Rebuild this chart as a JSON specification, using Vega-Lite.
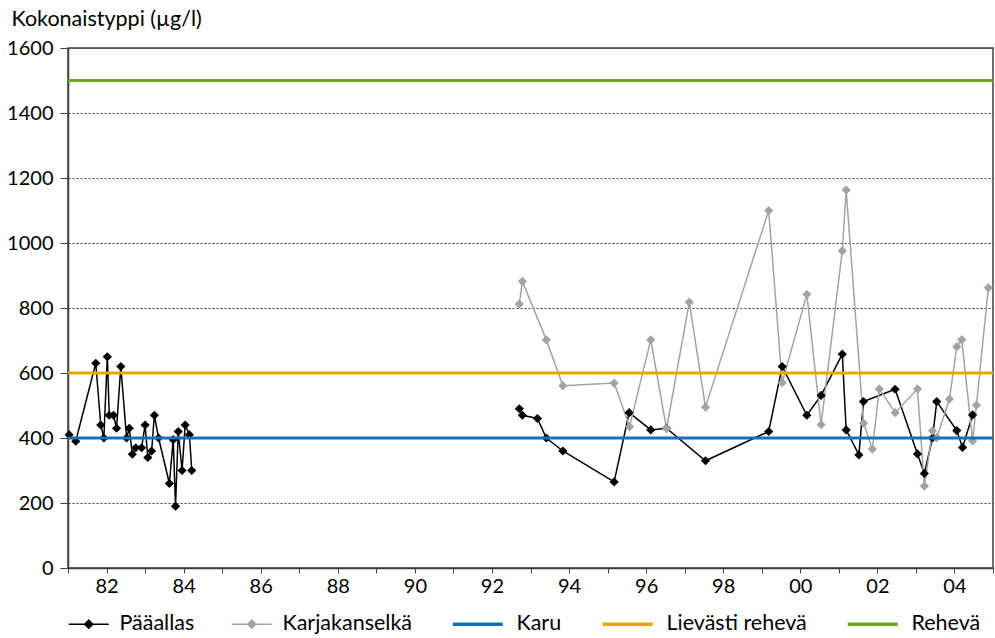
{
  "$schema": "https://vega.github.io/schema/vega-lite/v6.json",
  "width": 925,
  "height": 520,
  "autosize": {"type": "none"},
  "padding": {"left": 68, "top": 48, "right": 2, "bottom": 70},
  "background": "white",
  "config": {
    "font": "Lato",
    "view": {"stroke": "#404040", "strokeWidth": 1.5},
    "axis": {
      "labelFont": "Lato",
      "labelFontSize": 20,
      "labelColor": "#000000",
      "domainColor": "#404040",
      "tickColor": "#404040",
      "domainWidth": 1.5
    }
  },
  "datasets": {
    "obs": [
      {"series": "Pääallas", "seg": "a", "year": 1981.03, "value": 410},
      {"series": "Pääallas", "seg": "a", "year": 1981.2, "value": 390},
      {"series": "Pääallas", "seg": "a", "year": 1981.72, "value": 630},
      {"series": "Pääallas", "seg": "a", "year": 1981.85, "value": 440},
      {"series": "Pääallas", "seg": "a", "year": 1981.93, "value": 400},
      {"series": "Pääallas", "seg": "a", "year": 1982.02, "value": 650},
      {"series": "Pääallas", "seg": "a", "year": 1982.07, "value": 470},
      {"series": "Pääallas", "seg": "a", "year": 1982.18, "value": 470},
      {"series": "Pääallas", "seg": "a", "year": 1982.26, "value": 430},
      {"series": "Pääallas", "seg": "a", "year": 1982.37, "value": 620},
      {"series": "Pääallas", "seg": "a", "year": 1982.52, "value": 400},
      {"series": "Pääallas", "seg": "a", "year": 1982.59, "value": 430},
      {"series": "Pääallas", "seg": "a", "year": 1982.67, "value": 350},
      {"series": "Pääallas", "seg": "a", "year": 1982.76, "value": 370},
      {"series": "Pääallas", "seg": "a", "year": 1982.91, "value": 370},
      {"series": "Pääallas", "seg": "a", "year": 1983.0, "value": 440},
      {"series": "Pääallas", "seg": "a", "year": 1983.07, "value": 340},
      {"series": "Pääallas", "seg": "a", "year": 1983.17, "value": 360},
      {"series": "Pääallas", "seg": "a", "year": 1983.24, "value": 470},
      {"series": "Pääallas", "seg": "a", "year": 1983.35, "value": 400},
      {"series": "Pääallas", "seg": "a", "year": 1983.63, "value": 260},
      {"series": "Pääallas", "seg": "a", "year": 1983.73, "value": 395},
      {"series": "Pääallas", "seg": "a", "year": 1983.79, "value": 190},
      {"series": "Pääallas", "seg": "a", "year": 1983.86, "value": 420},
      {"series": "Pääallas", "seg": "a", "year": 1983.96, "value": 300},
      {"series": "Pääallas", "seg": "a", "year": 1984.04, "value": 440},
      {"series": "Pääallas", "seg": "a", "year": 1984.15, "value": 410},
      {"series": "Pääallas", "seg": "a", "year": 1984.21, "value": 300},
      {"series": "Pääallas", "seg": "b", "year": 1992.71, "value": 490},
      {"series": "Pääallas", "seg": "b", "year": 1992.79, "value": 470},
      {"series": "Pääallas", "seg": "b", "year": 1993.18, "value": 460},
      {"series": "Pääallas", "seg": "b", "year": 1993.41, "value": 400},
      {"series": "Pääallas", "seg": "b", "year": 1993.84, "value": 360},
      {"series": "Pääallas", "seg": "b", "year": 1995.17, "value": 265},
      {"series": "Pääallas", "seg": "b", "year": 1995.56, "value": 478},
      {"series": "Pääallas", "seg": "b", "year": 1996.12, "value": 425},
      {"series": "Pääallas", "seg": "b", "year": 1996.53, "value": 430},
      {"series": "Pääallas", "seg": "b", "year": 1997.54, "value": 330},
      {"series": "Pääallas", "seg": "b", "year": 1999.18, "value": 420},
      {"series": "Pääallas", "seg": "b", "year": 1999.53, "value": 620},
      {"series": "Pääallas", "seg": "b", "year": 2000.17, "value": 470},
      {"series": "Pääallas", "seg": "b", "year": 2000.54, "value": 531},
      {"series": "Pääallas", "seg": "b", "year": 2001.09, "value": 658},
      {"series": "Pääallas", "seg": "b", "year": 2001.19, "value": 425},
      {"series": "Pääallas", "seg": "b", "year": 2001.52, "value": 348},
      {"series": "Pääallas", "seg": "b", "year": 2001.64, "value": 512},
      {"series": "Pääallas", "seg": "b", "year": 2002.46, "value": 550},
      {"series": "Pääallas", "seg": "b", "year": 2003.04, "value": 351},
      {"series": "Pääallas", "seg": "b", "year": 2003.22, "value": 291},
      {"series": "Pääallas", "seg": "b", "year": 2003.43, "value": 400},
      {"series": "Pääallas", "seg": "b", "year": 2003.54, "value": 512},
      {"series": "Pääallas", "seg": "b", "year": 2004.06, "value": 423},
      {"series": "Pääallas", "seg": "b", "year": 2004.21, "value": 371},
      {"series": "Pääallas", "seg": "b", "year": 2004.47, "value": 471},
      {"series": "Karjakanselkä", "seg": "c", "year": 1992.71, "value": 812},
      {"series": "Karjakanselkä", "seg": "c", "year": 1992.79, "value": 882},
      {"series": "Karjakanselkä", "seg": "c", "year": 1993.41, "value": 702},
      {"series": "Karjakanselkä", "seg": "c", "year": 1993.84, "value": 561},
      {"series": "Karjakanselkä", "seg": "c", "year": 1995.17, "value": 569},
      {"series": "Karjakanselkä", "seg": "c", "year": 1995.57, "value": 435},
      {"series": "Karjakanselkä", "seg": "c", "year": 1996.12, "value": 702},
      {"series": "Karjakanselkä", "seg": "c", "year": 1996.53, "value": 429},
      {"series": "Karjakanselkä", "seg": "c", "year": 1997.12, "value": 818},
      {"series": "Karjakanselkä", "seg": "c", "year": 1997.54, "value": 495},
      {"series": "Karjakanselkä", "seg": "c", "year": 1999.18, "value": 1100},
      {"series": "Karjakanselkä", "seg": "c", "year": 1999.53, "value": 570},
      {"series": "Karjakanselkä", "seg": "c", "year": 2000.17, "value": 842},
      {"series": "Karjakanselkä", "seg": "c", "year": 2000.54, "value": 441},
      {"series": "Karjakanselkä", "seg": "c", "year": 2001.09, "value": 976},
      {"series": "Karjakanselkä", "seg": "c", "year": 2001.19, "value": 1163},
      {"series": "Karjakanselkä", "seg": "c", "year": 2001.64, "value": 446},
      {"series": "Karjakanselkä", "seg": "c", "year": 2001.87, "value": 366},
      {"series": "Karjakanselkä", "seg": "c", "year": 2002.05, "value": 551},
      {"series": "Karjakanselkä", "seg": "c", "year": 2002.46, "value": 478},
      {"series": "Karjakanselkä", "seg": "c", "year": 2003.04, "value": 551},
      {"series": "Karjakanselkä", "seg": "c", "year": 2003.22, "value": 252},
      {"series": "Karjakanselkä", "seg": "c", "year": 2003.43, "value": 422},
      {"series": "Karjakanselkä", "seg": "c", "year": 2003.54, "value": 401},
      {"series": "Karjakanselkä", "seg": "c", "year": 2003.87, "value": 520},
      {"series": "Karjakanselkä", "seg": "c", "year": 2004.06, "value": 681},
      {"series": "Karjakanselkä", "seg": "c", "year": 2004.19, "value": 702},
      {"series": "Karjakanselkä", "seg": "c", "year": 2004.47, "value": 391},
      {"series": "Karjakanselkä", "seg": "c", "year": 2004.57, "value": 501},
      {"series": "Karjakanselkä", "seg": "c", "year": 2004.88, "value": 862}
    ],
    "limits": [
      {"series": "Karu", "value": 400},
      {"series": "Lievästi rehevä", "value": 600},
      {"series": "Rehevä", "value": 1500}
    ]
  },
  "encoding": {
    "color": {
      "field": "series",
      "type": "nominal",
      "scale": {
        "domain": ["Pääallas", "Karjakanselkä", "Karu", "Lievästi rehevä", "Rehevä"],
        "range": ["#000000", "#a3a3a3", "#1570b5", "#eaa600", "#6aaa22"]
      },
      "legend": {
        "title": null,
        "orient": "none",
        "direction": "horizontal",
        "legendX": 30,
        "legendY": 565,
        "padding": 0,
        "symbolSize": 1600,
        "symbolType": "M-1,0H1",
        "symbolOffset": 0,
        "labelFont": "Lato",
        "labelFontSize": 21.5,
        "labelColor": "#000000",
        "labelOffset": 0,
        "columnPadding": 33,
        "symbolStrokeWidth": 2,
        "encode": {
          "symbols": {
            "update": {
              "x": {"signal": "datum.size * 0.5 - (indexof(['Pääallas','Karjakanselkä'], datum.value) >= 0 ? 20 : 28)"},
              "size": {"signal": "indexof(['Pääallas','Karjakanselkä'], datum.value) >= 0 ? 1600 : 2500"},
              "shape": {"signal": "indexof(['Pääallas','Karjakanselkä'], datum.value) >= 0 ? 'M-1,0H1M0,-0.2L0.2,0L0,0.2L-0.2,0Z' : 'M-1,0H1'"},
              "strokeWidth": {"signal": "indexof(['Pääallas','Karjakanselkä'], datum.value) >= 0 ? 1.5 : 3.5"},
              "fill": {"scale": "color", "field": "value"},
              "stroke": {"scale": "color", "field": "value"},
              "opacity": {"value": 1}
            }
          }
        }
      }
    }
  },
  "layer": [
    {
      "data": {"name": "obs"},
      "mark": {
        "type": "line",
        "strokeWidth": 1.5,
        "point": {"shape": "diamond", "size": 85, "filled": true, "opacity": 1}
      },
      "encoding": {
        "x": {
          "field": "year",
          "type": "quantitative",
          "scale": {"domain": [1981, 2005], "nice": false, "zero": false},
          "axis": {
            "title": null,
            "grid": false,
            "values": [1981, 1982, 1983, 1984, 1985, 1986, 1987, 1988, 1989, 1990, 1991, 1992, 1993, 1994, 1995, 1996, 1997, 1998, 1999, 2000, 2001, 2002, 2003, 2004, 2005],
            "labelExpr": "datum.value % 2 == 0 ? substring(toString(datum.value), 2) : ''",
            "tickSize": 5,
            "labelPadding": 3,
            "labelFlush": false,
            "labelOverlap": false
          }
        },
        "y": {
          "field": "value",
          "type": "quantitative",
          "scale": {"domain": [0, 1600], "nice": false},
          "axis": {
            "title": "Kokonaistyppi (µg/l)",
            "titleFont": "Lato",
            "titleFontSize": 21.5,
            "titleFontWeight": "normal",
            "titleColor": "#000000",
            "titleAngle": 0,
            "titleAlign": "left",
            "titleBaseline": "alphabetic",
            "titleX": -57,
            "titleY": -23,
            "values": [0, 200, 400, 600, 800, 1000, 1200, 1400, 1600],
            "format": "d",
            "grid": true,
            "gridColor": "#404040",
            "gridDash": [2, 2],
            "gridWidth": 1,
            "tickSize": 8,
            "labelPadding": 7
          }
        },
        "detail": {"field": "seg"},
        "order": {"field": "year"}
      }
    },
    {
      "data": {"name": "limits"},
      "mark": {"type": "rule", "strokeWidth": 3},
      "encoding": {
        "y": {"field": "value", "type": "quantitative"}
      }
    }
  ]
}
